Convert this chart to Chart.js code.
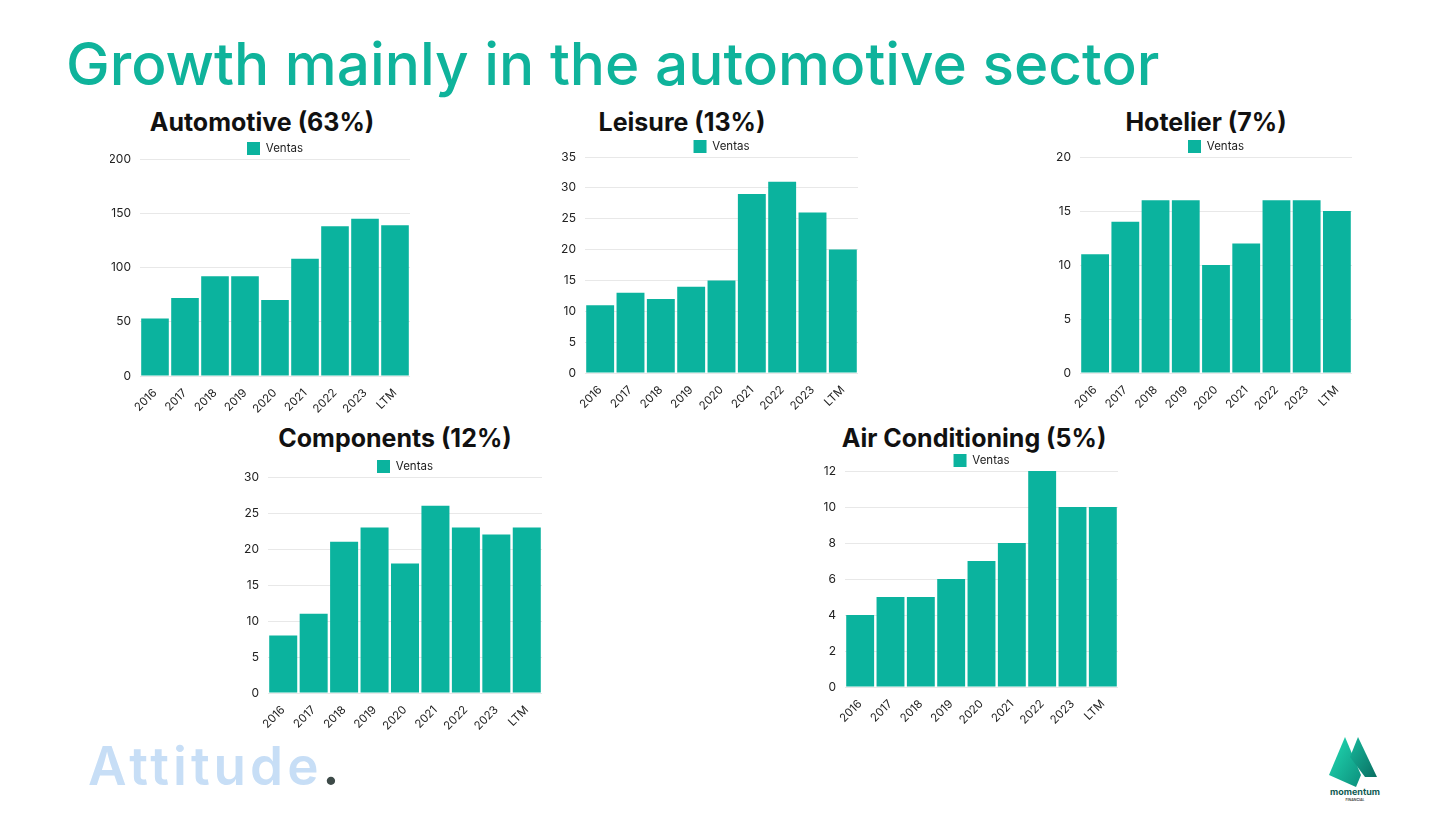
<!DOCTYPE html>
<html>
<head>
<meta charset="utf-8">
<script src="https://cdn.jsdelivr.net/npm/chart.js@4"></script>
<style>
  html, body { margin:0; padding:0; background:#fff; }
  body { width:1456px; height:819px; position:relative; overflow:hidden; font-family:Inter, "Noto Sans", sans-serif; }
  #title { position:absolute; left:66px; top:28px; font-size:58.5px; font-weight:500; color:#0fb39b; white-space:nowrap; }
  .ctitle { position:absolute; width:400px; text-align:center; font-size:25px; font-weight:700; color:#111; white-space:nowrap; }
  .box { position:absolute; }
  #attitude { position:absolute; left:88px; top:734px; font-size:53px; font-weight:600; letter-spacing:4px; color:#c7def6; }
  #attitude span { color:#3d4a48; letter-spacing:0; }
</style>
</head>
<body>
<div id="title">Growth mainly in the automotive sector</div>

<div class="ctitle" style="left:62px;top:107px">Automotive (63%)</div>
<div class="ctitle" style="left:482px;top:107px">Leisure (13%)</div>
<div class="ctitle" style="left:1006px;top:107px">Hotelier (7%)</div>
<div class="ctitle" style="left:195px;top:423px">Components (12%)</div>
<div class="ctitle" style="left:774px;top:423px">Air Conditioning (5%)</div>

<div class="box" style="left:110px;top:141px;width:300px;height:277px"><canvas id="c1"></canvas></div>
<div class="box" style="left:555px;top:139px;width:303px;height:276px"><canvas id="c2"></canvas></div>
<div class="box" style="left:1050px;top:139px;width:302px;height:276px"><canvas id="c3"></canvas></div>
<div class="box" style="left:238px;top:459px;width:304px;height:276px"><canvas id="c4"></canvas></div>
<div class="box" style="left:815px;top:453px;width:303px;height:276px"><canvas id="c5"></canvas></div>

<div id="attitude">Attitude<span>.</span></div>

<svg style="position:absolute;left:1320px;top:730px" width="70" height="80" viewBox="0 0 70 80">
  <defs>
    <linearGradient id="g1" x1="0" y1="0" x2="1" y2="1">
      <stop offset="0" stop-color="#22dcb4"/>
      <stop offset="1" stop-color="#0c8f7c"/>
    </linearGradient>
    <linearGradient id="g2" x1="0" y1="0" x2="1" y2="1">
      <stop offset="0" stop-color="#17b99c"/>
      <stop offset="1" stop-color="#0a6f62"/>
    </linearGradient>
  </defs>
  <polygon points="9,45 25,7 41,45 36,57" fill="url(#g1)"/>
  <polygon points="30,27 38,7 57,47 45,47" fill="url(#g2)"/>
  <text x="35" y="65" text-anchor="middle" font-family="Inter" font-weight="700" font-size="9" fill="#0e5a52">momentum</text>
  <text x="35" y="71" text-anchor="middle" font-family="Inter" font-weight="600" font-size="3.5" fill="#333">FINANCIAL</text>
</svg>

<script>
'use strict';

let years = ['2016','2017','2018','2019','2020','2021','2022','2023','LTM'];
let automotive = [53, 72, 92, 92, 70, 108, 138, 145, 139];
let leisure = [11, 13, 12, 14, 15, 29, 31, 26, 20];
let hotelier = [11, 14, 16, 16, 10, 12, 16, 16, 15];
let components = [8, 11, 21, 23, 18, 26, 23, 22, 23];
let air_cond = [4, 5, 5, 6, 7, 8, 12, 10, 10];
let series_label = 'Ventas';
let bar_color = '#0bb39e';

function make_chart(id, data, max, step){
  let ctx = document.getElementById(id).getContext('2d');
  let chart = new Chart(ctx, {
    type: 'bar',
    data: {
      labels: years,
      datasets: [{
        label: series_label,
        data: data,
        backgroundColor: bar_color,
        borderWidth: 0,
        barPercentage: 0.92,
        categoryPercentage: 1
      }]
    },
    options: {
      responsive: true,
      maintainAspectRatio: false,
      animation: false,
      layout: { padding: 0 },
      plugins: {
        legend: {
          fullSize: false,
          labels: {
            boxWidth: 13, boxHeight: 13,
            color: '#222',
            padding: 1,
            font: { family: 'Inter', size: 11.5 }
          }
        },
        tooltip: { enabled: false }
      },
      scales: {
        x: {
          grid: { display: false },
          border: { display: false },
          ticks: {
            color: '#222',
            maxRotation: 45, minRotation: 45,
            padding: 2,
            font: { family: 'Inter', size: 11.5 }
          }
        },
        y: {
          min: 0, max: max,
          afterFit: function(axis){ axis.width = 30; },
          grid: { color: '#e8e8e8', drawTicks: false },
          border: { display: false },
          ticks: {
            stepSize: step,
            color: '#222',
            padding: 9,
            font: { family: 'Inter', size: 12 }
          }
        }
      }
    }
  });
  // legend keeps a fixed 10px gap below itself, tighten it
  let fit = chart.legend.fit;
  chart.legend.fit = function(){
    fit.call(this);
    this.height -= 6;
  };
  chart.update();
  return chart;
}

make_chart('c1', automotive, 200, 50);
make_chart('c2', leisure, 35, 5);
make_chart('c3', hotelier, 20, 5);
make_chart('c4', components, 30, 5);
make_chart('c5', air_cond, 12, 2);
</script>
</body>
</html>
